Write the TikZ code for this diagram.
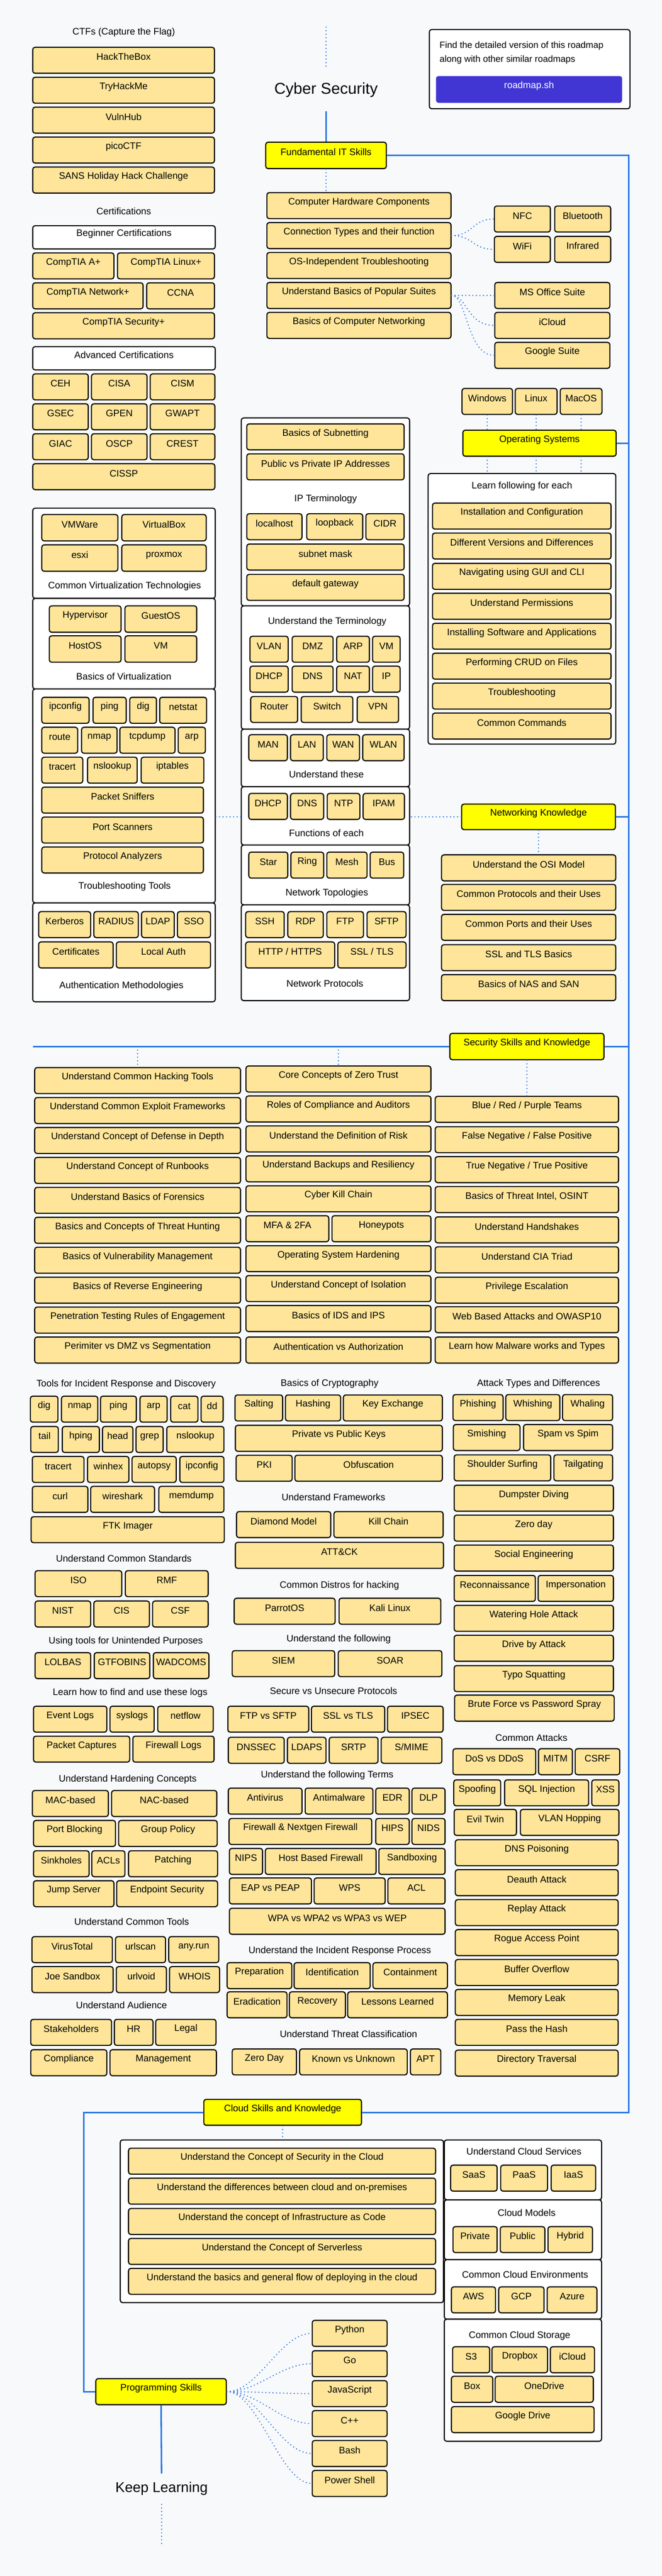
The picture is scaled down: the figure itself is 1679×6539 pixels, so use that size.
\documentclass[tikz,border=0pt]{standalone}
\usepackage{fontspec}
\setmainfont{Liberation Sans}
\usetikzlibrary{fit}

\definecolor{pagebg}{RGB}{248,249,251}
\definecolor{boxfill}{RGB}{255,229,153}
\definecolor{topicyellow}{RGB}{255,255,0}
\definecolor{roadblue}{RGB}{43,120,228}
\definecolor{btnblue}{RGB}{65,54,212}

% one box spanning two corners: [style]{name}{x1}{y1}{x2}{y2}{text}
\newcommand{\cellbox}[7][box]{\node[#1, fit={(#3,#4) (#5,#6)}] (#2) {#7};}

\begin{document}
\begin{tikzpicture}[x=1pt, y=-1pt,
    box/.style={draw=black, line width=2.8pt, fill=boxfill, rounded corners=6pt, inner sep=0pt,
      font=\fontsize{24}{28}\selectfont, text height=17pt, text depth=5pt},
    hbox/.style={box, fill=white},
    topic/.style={box, fill=topicyellow},
    cont/.style={draw=black, line width=2.8pt, fill=white, rounded corners=6pt, inner sep=0pt},
    btn/.style={box, draw=none, fill=btnblue, text=white},
    lbl/.style={font=\fontsize{24}{28}\selectfont, inner sep=0pt, text height=17pt, text depth=5pt},
    bluel/.style={draw=roadblue, line width=4pt},
    dotl/.style={draw=roadblue, line width=3.5pt, line cap=round, dash pattern=on 0pt off 9pt}]

    % page
    \fill[pagebg] (0,0) rectangle (1679,6539);
    \useasboundingbox (0,0) rectangle (1679,6539);

    % title and info
    \coordinate (topdot) at (827,69);
    \node[font=\fontsize{40}{48}\selectfont, inner xsep=0pt, inner ysep=36pt, text height=29pt, text depth=8pt] (title) at (827,228) {Cyber Security};
    \cellbox[cont]{info}{1089}{75}{1598}{276}{}
    \node[lbl, anchor=west, font=\fontsize{23}{28}\selectfont] (info1) at (1115,116) {Find the detailed version of this roadmap};
    \node[lbl, anchor=west, font=\fontsize{23}{28}\selectfont] (info2) at (1115,152) {along with other similar roadmaps};
    \cellbox[btn]{rmbtn}{1106}{193}{1578}{261}{roadmap.sh}

    % fundamental IT skills
    \cellbox[topic]{fund}{674}{361}{980}{428}{Fundamental IT Skills}
    \coordinate (tr) at (1595,394.5);
    \cellbox{hw}{677}{489}{1144}{555}{Computer Hardware Components}
    \cellbox{conn}{677}{565}{1144}{631}{Connection Types and their function}
    \cellbox{osind}{677}{641}{1144}{707}{OS-Independent Troubleshooting}
    \cellbox{suites}{677}{717}{1144}{783}{Understand Basics of Popular Suites}
    \cellbox{netb}{677}{793}{1144}{859}{Basics of Computer Networking}
    \cellbox{nfc}{1254}{523}{1396}{589}{NFC}
    \cellbox{bt}{1407}{523}{1549}{589}{Bluetooth}
    \cellbox{wifi}{1254}{600}{1396}{666}{WiFi}
    \cellbox{ir}{1407}{600}{1549}{666}{Infrared}
    \cellbox{office}{1255}{717}{1547}{783}{MS Office Suite}
    \cellbox{icloud}{1255}{793}{1547}{859}{iCloud}
    \cellbox{gsuite}{1255}{869}{1547}{935}{Google Suite}

    % CTFs
    \node[lbl] (ctf) at (314,82) {CTFs (Capture the Flag)};
    \cellbox{htb}{83}{120}{544}{186}{HackTheBox}
    \cellbox{thm}{83}{196}{544}{262}{TryHackMe}
    \cellbox{vhub}{83}{272}{544}{338}{VulnHub}
    \cellbox{pico}{83}{348}{544}{414}{picoCTF}
    \cellbox{sans}{83}{424}{544}{490}{SANS Holiday Hack Challenge}

    % certifications
    \node[lbl] (certs) at (314,539) {Certifications};
    \cellbox[hbox]{begc}{83}{573}{546}{632}{Beginner Certifications}
    \cellbox{aplus}{83}{642}{289}{708}{CompTIA A+}
    \cellbox{linplus}{298}{642}{544}{708}{CompTIA Linux+}
    \cellbox{netplus}{83}{718}{363}{784}{CompTIA Network+}
    \cellbox{ccna}{372}{718}{544}{784}{CCNA}
    \cellbox{secplus}{83}{794}{544}{860}{CompTIA Security+}
    \cellbox[hbox]{advc}{83}{880}{546}{939}{Advanced Certifications}
    \cellbox{ceh}{83}{949}{224}{1015}{CEH}
    \cellbox{cisa}{232}{949}{373}{1015}{CISA}
    \cellbox{cism}{381}{949}{545}{1015}{CISM}
    \cellbox{gsec}{83}{1025}{224}{1091}{GSEC}
    \cellbox{gpen}{232}{1025}{373}{1091}{GPEN}
    \cellbox{gwapt}{381}{1025}{545}{1091}{GWAPT}
    \cellbox{giac}{83}{1101}{224}{1167}{GIAC}
    \cellbox{oscp}{232}{1101}{373}{1167}{OSCP}
    \cellbox{crest}{381}{1101}{545}{1167}{CREST}
    \cellbox{cissp}{83}{1177}{545}{1243}{CISSP}

    % virtualization
    \cellbox[cont]{virtc}{83}{1290}{546}{1519}{}
    \cellbox{vmware}{106}{1306}{299}{1373}{VMWare}
    \cellbox{vbox}{309}{1306}{523}{1373}{VirtualBox}
    \cellbox{esxi}{106}{1383}{299}{1450}{esxi}
    \cellbox{proxmox}{309}{1383}{523}{1450}{proxmox}
    \node[lbl] (virtl) at (316,1488) {Common Virtualization Technologies};
    \cellbox[cont]{bvirtc}{83}{1519}{546}{1749}{}
    \cellbox{hyperv}{125}{1538}{307}{1605}{Hypervisor}
    \cellbox{guestos}{317}{1538}{499}{1605}{GuestOS}
    \cellbox{hostos}{125}{1614}{307}{1681}{HostOS}
    \cellbox{vmb}{317}{1614}{499}{1681}{VM}
    \node[lbl] (bvirtl) at (314,1719) {Basics of Virtualization};

    % troubleshooting tools
    \cellbox[cont]{trb}{83}{1749}{546}{2292}{}
    \cellbox{ipcfg}{106}{1770}{226}{1836}{ipconfig}
    \cellbox{ping}{236}{1770}{320}{1836}{ping}
    \cellbox{dig}{329}{1770}{397}{1836}{dig}
    \cellbox{netstat}{405}{1770}{524}{1836}{netstat}
    \cellbox{route}{106}{1846}{197}{1912}{route}
    \cellbox{nmap}{207}{1846}{297}{1912}{nmap}
    \cellbox{tcpdump}{304}{1846}{444}{1912}{tcpdump}
    \cellbox{arp}{452}{1846}{521}{1912}{arp}
    \cellbox{tracert}{106}{1922}{210}{1988}{tracert}
    \cellbox{nslook}{222}{1922}{348}{1988}{nslookup}
    \cellbox{iptab}{358}{1922}{517}{1988}{iptables}
    \cellbox{sniff}{106}{1998}{516}{2064}{Packet Sniffers}
    \cellbox{pscan}{106}{2074}{516}{2140}{Port Scanners}
    \cellbox{panal}{106}{2150}{516}{2216}{Protocol Analyzers}
    \node[lbl] (trbl) at (316,2251) {Troubleshooting Tools};

    % authentication
    \cellbox[cont]{authc}{83}{2292}{546}{2543}{}
    \cellbox{kerb}{98}{2314}{230}{2380}{Kerberos}
    \cellbox{radius}{238}{2314}{351}{2380}{RADIUS}
    \cellbox{ldap}{359}{2314}{442}{2380}{LDAP}
    \cellbox{sso}{450}{2314}{534}{2380}{SSO}
    \cellbox{certif}{98}{2391}{287}{2457}{Certificates}
    \cellbox{lauth}{295}{2391}{534}{2457}{Local Auth}
    \node[lbl] (authl) at (308,2503) {Authentication Methodologies};

    % IP terminology
    \cellbox[cont]{ipc}{612}{1061}{1039}{1538}{}
    \cellbox{subnet}{626}{1076}{1025}{1142}{Basics of Subnetting}
    \cellbox{pubpriv}{626}{1152}{1025}{1218}{Public vs Private IP Addresses}
    \node[lbl] (ipl) at (826,1267) {IP Terminology};
    \cellbox{lhost}{626}{1304}{766}{1370}{localhost}
    \cellbox{loopb}{778}{1304}{920}{1370}{loopback}
    \cellbox{cidr}{928}{1304}{1025}{1370}{CIDR}
    \cellbox{smask}{626}{1381}{1025}{1447}{subnet mask}
    \cellbox{dgw}{626}{1458}{1025}{1524}{default gateway}

    % terminology
    \cellbox[cont]{termc}{612}{1538}{1039}{1851}{}
    \node[lbl] (terml) at (830,1579) {Understand the Terminology};
    \cellbox{vlan}{634}{1615}{731}{1681}{VLAN}
    \cellbox{dmz}{741}{1615}{845}{1681}{DMZ}
    \cellbox{arpt}{854}{1615}{937}{1681}{ARP}
    \cellbox{vmt}{945}{1615}{1015}{1681}{VM}
    \cellbox{dhcpt}{634}{1691}{731}{1757}{DHCP}
    \cellbox{dnst}{741}{1691}{845}{1757}{DNS}
    \cellbox{nat}{854}{1691}{937}{1757}{NAT}
    \cellbox{ipt}{945}{1691}{1015}{1757}{IP}
    \cellbox{router}{636}{1768}{755}{1834}{Router}
    \cellbox{switch}{764}{1768}{895}{1834}{Switch}
    \cellbox{vpn}{906}{1768}{1011}{1834}{VPN}

    % network types
    \cellbox[cont]{utc}{612}{1851}{1039}{1997}{}
    \cellbox{man}{631}{1865}{729}{1931}{MAN}
    \cellbox{lan}{737}{1865}{820}{1931}{LAN}
    \cellbox{wan}{829}{1865}{912}{1931}{WAN}
    \cellbox{wlan}{920}{1865}{1025}{1931}{WLAN}
    \node[lbl] (utl) at (828,1968) {Understand these};

    % functions
    \cellbox[cont]{fnc}{612}{1997}{1039}{2145}{}
    \cellbox{dhcpf}{631}{2014}{729}{2080}{DHCP}
    \cellbox{dnsf}{737}{2014}{821}{2080}{DNS}
    \cellbox{ntp}{830}{2014}{913}{2080}{NTP}
    \cellbox{ipam}{921}{2014}{1026}{2080}{IPAM}
    \node[lbl] (fnl) at (828,2117) {Functions of each};

    % topologies
    \cellbox[cont]{topc}{612}{2145}{1039}{2297}{}
    \cellbox{star}{631}{2163}{730}{2229}{Star}
    \cellbox{ring}{738}{2163}{821}{2229}{Ring}
    \cellbox{mesh}{829}{2163}{931}{2229}{Mesh}
    \cellbox{bus}{939}{2163}{1024}{2229}{Bus}
    \node[lbl] (topl) at (829,2267) {Network Topologies};

    % protocols
    \cellbox[cont]{protc}{612}{2297}{1039}{2540}{}
    \cellbox{ssh}{623}{2314}{721}{2380}{SSH}
    \cellbox{rdp}{730}{2314}{820}{2380}{RDP}
    \cellbox{ftp}{829}{2314}{922}{2380}{FTP}
    \cellbox{sftp}{931}{2314}{1030}{2380}{SFTP}
    \cellbox{http}{623}{2391}{849}{2457}{HTTP / HTTPS}
    \cellbox{ssltls}{857}{2391}{1030}{2457}{SSL / TLS}
    \node[lbl] (protl) at (824,2499) {Network Protocols};

    % operating systems
    \cellbox{win}{1172}{986}{1300}{1052}{Windows}
    \cellbox{linux}{1307}{986}{1413}{1052}{Linux}
    \cellbox{macos}{1421}{986}{1527}{1052}{MacOS}
    \cellbox[topic]{os}{1174}{1092}{1563}{1158}{Operating Systems}
    \cellbox[cont]{learn}{1086}{1202}{1562}{1889}{}
    \node[lbl] (learnl) at (1324,1235) {Learn following for each};
    \cellbox{install}{1097}{1277}{1550}{1343}{Installation and Configuration}
    \cellbox{versions}{1097}{1353}{1550}{1419}{Different Versions and Differences}
    \cellbox{gui}{1097}{1430}{1550}{1496}{Navigating using GUI and CLI}
    \cellbox{perms}{1097}{1506}{1550}{1572}{Understand Permissions}
    \cellbox{software}{1097}{1582}{1550}{1648}{Installing Software and Applications}
    \cellbox{crud}{1097}{1658}{1550}{1724}{Performing CRUD on Files}
    \cellbox{trbos}{1097}{1734}{1550}{1800}{Troubleshooting}
    \cellbox{cmds}{1097}{1810}{1550}{1876}{Common Commands}

    % networking knowledge
    \cellbox[topic]{net}{1171}{2041}{1561}{2106}{Networking Knowledge}
    \cellbox{osi}{1120}{2170}{1562}{2236}{Understand the OSI Model}
    \cellbox{cprot}{1120}{2245}{1562}{2311}{Common Protocols and their Uses}
    \cellbox{cports}{1120}{2321}{1562}{2387}{Common Ports and their Uses}
    \cellbox{sslb}{1120}{2398}{1562}{2464}{SSL and TLS Basics}
    \cellbox{nas}{1120}{2474}{1562}{2540}{Basics of NAS and SAN}

    % security skills and knowledge
    \cellbox[topic]{sec}{1141}{2623}{1532}{2690}{Security Skills and Knowledge}
    \coordinate (sl) at (84,2656.5);
    \cellbox{hack}{88}{2710}{610}{2776}{Understand Common Hacking Tools}
    \cellbox{exploit}{88}{2786}{610}{2852}{Understand Common Exploit Frameworks}
    \cellbox{depth}{88}{2862}{610}{2928}{Understand Concept of Defense in Depth}
    \cellbox{runbook}{88}{2938}{610}{3004}{Understand Concept of Runbooks}
    \cellbox{forens}{88}{3014}{610}{3080}{Understand Basics of Forensics}
    \cellbox{hunt}{88}{3090}{610}{3156}{Basics and Concepts of Threat Hunting}
    \cellbox{vulnm}{88}{3166}{610}{3232}{Basics of Vulnerability Management}
    \cellbox{reveng}{88}{3242}{610}{3308}{Basics of Reverse Engineering}
    \cellbox{pentest}{88}{3318}{610}{3384}{Penetration Testing Rules of Engagement}
    \cellbox{perim}{88}{3394}{610}{3460}{Perimiter vs DMZ vs Segmentation}
    \cellbox{zt}{624}{2706}{1093}{2772}{Core Concepts of Zero Trust}
    \cellbox{compl}{624}{2782}{1093}{2848}{Roles of Compliance and Auditors}
    \cellbox{risk}{624}{2858}{1093}{2924}{Understand the Definition of Risk}
    \cellbox{backup}{624}{2934}{1093}{3000}{Understand Backups and Resiliency}
    \cellbox{kchain}{624}{3010}{1093}{3076}{Cyber Kill Chain}
    \cellbox{mfa}{624}{3086}{834}{3152}{MFA \& 2FA}
    \cellbox{honey}{842}{3086}{1093}{3152}{Honeypots}
    \cellbox{oshard}{624}{3162}{1093}{3228}{Operating System Hardening}
    \cellbox{isol}{624}{3238}{1093}{3304}{Understand Concept of Isolation}
    \cellbox{ids}{624}{3314}{1093}{3380}{Basics of IDS and IPS}
    \cellbox{authz}{624}{3394}{1093}{3460}{Authentication vs Authorization}
    \cellbox{teams}{1104}{2783}{1569}{2849}{Blue / Red / Purple Teams}
    \cellbox{fnfp}{1104}{2860}{1569}{2926}{False Negative / False Positive}
    \cellbox{tntp}{1104}{2936}{1569}{3002}{True Negative / True Positive}
    \cellbox{intel}{1104}{3012}{1569}{3078}{Basics of Threat Intel, OSINT}
    \cellbox{hshake}{1104}{3089}{1569}{3155}{Understand Handshakes}
    \cellbox{cia}{1104}{3165}{1569}{3231}{Understand CIA Triad}
    \cellbox{privesc}{1104}{3242}{1569}{3308}{Privilege Escalation}
    \cellbox{owasp}{1104}{3317}{1569}{3383}{Web Based Attacks and OWASP10}
    \cellbox{malware}{1104}{3394}{1569}{3460}{Learn how Malware works and Types}

    % incident response tools
    \node[lbl] (irl) at (320,3514) {Tools for Incident Response and Discovery};
    \cellbox{digi}{77}{3544}{147}{3610}{dig}
    \cellbox{nmapi}{156}{3544}{248}{3610}{nmap}
    \cellbox{pingi}{255}{3544}{346}{3610}{ping}
    \cellbox{arpi}{355}{3544}{424}{3610}{arp}
    \cellbox{cat}{433}{3544}{502}{3610}{cat}
    \cellbox{dd}{510}{3544}{566}{3610}{dd}
    \cellbox{tail}{78}{3621}{148}{3687}{tail}
    \cellbox{hping}{158}{3621}{252}{3687}{hping}
    \cellbox{head}{260}{3621}{337}{3687}{head}
    \cellbox{grep}{345}{3621}{414}{3687}{grep}
    \cellbox{nslooki}{423}{3621}{568}{3687}{nslookup}
    \cellbox{tracerti}{82}{3697}{213}{3763}{tracert}
    \cellbox{winhex}{222}{3697}{327}{3763}{winhex}
    \cellbox{autopsy}{335}{3697}{447}{3763}{autopsy}
    \cellbox{ipcfgi}{456}{3697}{568}{3763}{ipconfig}
    \cellbox{curl}{82}{3773}{223}{3839}{curl}
    \cellbox{wshark}{230}{3773}{392}{3839}{wireshark}
    \cellbox{memdump}{403}{3773}{568}{3839}{memdump}
    \cellbox{ftk}{79}{3850}{569}{3916}{FTK Imager}

    % standards and more tools
    \node[lbl] (stdl) at (314,3958) {Understand Common Standards};
    \cellbox{iso}{89}{3987}{309}{4053}{ISO}
    \cellbox{rmf}{318}{3987}{528}{4053}{RMF}
    \cellbox{nist}{89}{4064}{230}{4130}{NIST}
    \cellbox{cis}{238}{4064}{379}{4130}{CIS}
    \cellbox{csf}{387}{4064}{528}{4130}{CSF}
    \node[lbl] (unintl) at (319,4167) {Using tools for Unintended Purposes};
    \cellbox{lolbas}{89}{4195}{230}{4261}{LOLBAS}
    \cellbox{gtfo}{239}{4195}{380}{4261}{GTFOBINS}
    \cellbox{wadcoms}{389}{4195}{530}{4261}{WADCOMS}
    \node[lbl] (logsl) at (330,4297) {Learn how to find and use these logs};
    \cellbox{evlogs}{85}{4331}{271}{4397}{Event Logs}
    \cellbox{syslogs}{279}{4331}{391}{4397}{syslogs}
    \cellbox{netflow}{400}{4331}{541}{4397}{netflow}
    \cellbox{pcap}{85}{4407}{329}{4473}{Packet Captures}
    \cellbox{fwlogs}{337}{4407}{543}{4473}{Firewall Logs}
    \node[lbl] (hardl) at (324,4517) {Understand Hardening Concepts};
    \cellbox{macb}{82}{4545}{275}{4611}{MAC-based}
    \cellbox{nacb}{283}{4545}{550}{4611}{NAC-based}
    \cellbox{portb}{85}{4621}{293}{4687}{Port Blocking}
    \cellbox{gpol}{301}{4621}{551}{4687}{Group Policy}
    \cellbox{sinkh}{85}{4698}{226}{4764}{Sinkholes}
    \cellbox{acls}{233}{4698}{317}{4764}{ACLs}
    \cellbox{patch}{326}{4698}{552}{4764}{Patching}
    \cellbox{jumps}{85}{4774}{289}{4840}{Jump Server}
    \cellbox{endp}{296}{4774}{552}{4840}{Endpoint Security}
    \node[lbl] (ctoolsl) at (334,4881) {Understand Common Tools};
    \cellbox{vtotal}{81}{4916}{285}{4982}{VirusTotal}
    \cellbox{urlscan}{293}{4916}{420}{4982}{urlscan}
    \cellbox{anyrun}{428}{4916}{555}{4982}{any.run}
    \cellbox{joesb}{81}{4992}{287}{5058}{Joe Sandbox}
    \cellbox{urlvoid}{295}{4992}{422}{5058}{urlvoid}
    \cellbox{whois}{430}{4992}{557}{5058}{WHOIS}
    \node[lbl] (audl) at (308,5092) {Understand Audience};
    \cellbox{stake}{78}{5126}{283}{5192}{Stakeholders}
    \cellbox{hr}{290}{5126}{388}{5192}{HR}
    \cellbox{legal}{395}{5126}{548}{5192}{Legal}
    \cellbox{complc}{78}{5203}{271}{5269}{Compliance}
    \cellbox{mgmt}{279}{5203}{549}{5269}{Management}

    % cryptography and middle lists
    \node[lbl] (cryptl) at (836,3512) {Basics of Cryptography};
    \cellbox{salt}{596}{3541}{717}{3607}{Salting}
    \cellbox{hashing}{724}{3541}{864}{3607}{Hashing}
    \cellbox{keyx}{871}{3541}{1122}{3607}{Key Exchange}
    \cellbox{pkeys}{597}{3618}{1122}{3684}{Private vs Public Keys}
    \cellbox{pki}{599}{3694}{741}{3760}{PKI}
    \cellbox{obfus}{748}{3694}{1122}{3760}{Obfuscation}
    \node[lbl] (framel) at (846,3803) {Understand Frameworks};
    \cellbox{diamond}{600}{3837}{839}{3903}{Diamond Model}
    \cellbox{killc}{847}{3837}{1124}{3903}{Kill Chain}
    \cellbox{attck}{597}{3915}{1125}{3981}{ATT\&CK}
    \node[lbl] (distl) at (861,4025) {Common Distros for hacking};
    \cellbox{parrot}{594}{4057}{850}{4123}{ParrotOS}
    \cellbox{kali}{860}{4057}{1118}{4123}{Kali Linux}
    \node[lbl] (followl) at (859,4161) {Understand the following};
    \cellbox{siem}{589}{4190}{849}{4256}{SIEM}
    \cellbox{soar}{858}{4190}{1121}{4256}{SOAR}
    \node[lbl] (securl) at (846,4294) {Secure vs Unsecure Protocols};
    \cellbox{ftpsftp}{578}{4331}{783}{4397}{FTP vs SFTP}
    \cellbox{sslvtls}{790}{4331}{976}{4397}{SSL vs TLS}
    \cellbox{ipsec}{983}{4331}{1124}{4397}{IPSEC}
    \cellbox{dnssec}{579}{4410}{721}{4476}{DNSSEC}
    \cellbox{ldaps}{729}{4410}{827}{4476}{LDAPS}
    \cellbox{srtp}{835}{4410}{959}{4476}{SRTP}
    \cellbox{smime}{967}{4410}{1121}{4476}{S/MIME}
    \node[lbl] (termsl) at (830,4507) {Understand the following Terms};
    \cellbox{antiv}{579}{4539}{766}{4605}{Antivirus}
    \cellbox{antim}{774}{4539}{946}{4605}{Antimalware}
    \cellbox{edr}{953}{4539}{1038}{4605}{EDR}
    \cellbox{dlp}{1045}{4539}{1129}{4605}{DLP}
    \cellbox{fwng}{581}{4616}{943}{4682}{Firewall \& Nextgen Firewall}
    \cellbox{hips}{953}{4616}{1038}{4682}{HIPS}
    \cellbox{nids}{1045}{4616}{1129}{4682}{NIDS}
    \cellbox{nips}{582}{4692}{666}{4758}{NIPS}
    \cellbox{hbfw}{673}{4692}{954}{4758}{Host Based Firewall}
    \cellbox{sandbox}{961}{4692}{1129}{4758}{Sandboxing}
    \cellbox{eap}{582}{4767}{790}{4833}{EAP vs PEAP}
    \cellbox{wps}{797}{4767}{977}{4833}{WPS}
    \cellbox{acl}{984}{4767}{1129}{4833}{ACL}
    \cellbox{wpa}{582}{4844}{1129}{4910}{WPA vs WPA2 vs WPA3 vs WEP}
    \node[lbl] (irpl) at (862,4952) {Understand the Incident Response Process};
    \cellbox{prep}{576}{4982}{740}{5048}{Preparation}
    \cellbox{ident}{746}{4982}{939}{5048}{Identification}
    \cellbox{contain}{946}{4982}{1135}{5048}{Containment}
    \cellbox{erad}{576}{5056}{728}{5122}{Eradication}
    \cellbox{recov}{734}{5056}{876}{5122}{Recovery}
    \cellbox{lessons}{882}{5056}{1135}{5122}{Lessons Learned}
    \node[lbl] (threatl) at (884,5166) {Understand Threat Classification};
    \cellbox{zday}{589}{5201}{752}{5267}{Zero Day}
    \cellbox{known}{760}{5201}{1033}{5267}{Known vs Unknown}
    \cellbox{apt}{1041}{5201}{1118}{5267}{APT}

    % attack types
    \node[lbl] (attl) at (1366,3512) {Attack Types and Differences};
    \cellbox{phish}{1149}{3540}{1276}{3606}{Phishing}
    \cellbox{whish}{1283}{3540}{1420}{3606}{Whishing}
    \cellbox{whale}{1427}{3540}{1554}{3606}{Whaling}
    \cellbox{smish}{1150}{3616}{1319}{3682}{Smishing}
    \cellbox{spam}{1328}{3616}{1554}{3682}{Spam vs Spim}
    \cellbox{shoulder}{1152}{3693}{1397}{3759}{Shoulder Surfing}
    \cellbox{tailg}{1405}{3693}{1554}{3759}{Tailgating}
    \cellbox{dumpster}{1152}{3770}{1556}{3836}{Dumpster Diving}
    \cellbox{zeroday}{1152}{3846}{1556}{3912}{Zero day}
    \cellbox{soceng}{1152}{3922}{1556}{3988}{Social Engineering}
    \cellbox{recon}{1152}{3999}{1358}{4065}{Reconnaissance}
    \cellbox{imperson}{1365}{3999}{1556}{4065}{Impersonation}
    \cellbox{wateringh}{1152}{4075}{1556}{4141}{Watering Hole Attack}
    \cellbox{driveby}{1152}{4151}{1556}{4217}{Drive by Attack}
    \cellbox{typosq}{1152}{4228}{1556}{4294}{Typo Squatting}
    \cellbox{brute}{1153}{4303}{1558}{4369}{Brute Force vs Password Spray}

    % common attacks
    \node[lbl] (cattl) at (1348,4413) {Common Attacks};
    \cellbox{dos}{1149}{4439}{1359}{4505}{DoS vs DDoS}
    \cellbox{mitm}{1366}{4439}{1452}{4505}{MITM}
    \cellbox{csrf}{1459}{4439}{1572}{4505}{CSRF}
    \cellbox{spoof}{1151}{4518}{1270}{4584}{Spoofing}
    \cellbox{sqli}{1280}{4518}{1493}{4584}{SQL Injection}
    \cellbox{xss}{1501}{4518}{1570}{4584}{XSS}
    \cellbox{eviltwin}{1152}{4593}{1310}{4659}{Evil Twin}
    \cellbox{vlanhop}{1320}{4593}{1570}{4659}{VLAN Hopping}
    \cellbox{dnspois}{1155}{4670}{1568}{4736}{DNS Poisoning}
    \cellbox{deauth}{1155}{4746}{1568}{4812}{Deauth Attack}
    \cellbox{replay}{1155}{4822}{1568}{4888}{Replay Attack}
    \cellbox{rogue}{1155}{4898}{1568}{4964}{Rogue Access Point}
    \cellbox{bufov}{1155}{4974}{1568}{5040}{Buffer Overflow}
    \cellbox{memleak}{1155}{5050}{1568}{5116}{Memory Leak}
    \cellbox{pth}{1155}{5126}{1568}{5192}{Pass the Hash}
    \cellbox{dirtrav}{1155}{5204}{1568}{5270}{Directory Traversal}

    % cloud skills
    \cellbox[topic]{cloud}{517}{5329}{917}{5395}{Cloud Skills and Knowledge}
    \coordinate (cl) at (212,5362);
    \cellbox[cont]{cc}{305}{5432}{1125}{5845}{}
    \cellbox{csec}{326}{5453}{1105}{5519}{Understand the Concept of Security in the Cloud}
    \cellbox{conprem}{326}{5529}{1105}{5595}{Understand the differences between cloud and on-premises}
    \cellbox{iac}{326}{5606}{1105}{5672}{Understand the concept of Infrastructure as Code}
    \cellbox{srvless}{326}{5682}{1105}{5748}{Understand the Concept of Serverless}
    \cellbox{deploy}{326}{5758}{1105}{5824}{Understand the basics and general flow of deploying in the cloud}
    \cellbox[cont]{csc}{1127}{5432}{1526}{5584}{}
    \node[lbl] (csl) at (1329,5464) {Understand Cloud Services};
    \cellbox{saas}{1143}{5496}{1261}{5562}{SaaS}
    \cellbox{paas}{1270}{5496}{1389}{5562}{PaaS}
    \cellbox{iaas}{1398}{5496}{1511}{5562}{IaaS}
    \cellbox[cont]{cmc}{1127}{5584}{1526}{5736}{}
    \node[lbl] (cml) at (1336,5620) {Cloud Models};
    \cellbox{private}{1149}{5652}{1261}{5718}{Private}
    \cellbox{public}{1269}{5652}{1382}{5718}{Public}
    \cellbox{hybrid}{1390}{5652}{1503}{5718}{Hybrid}
    \cellbox[cont]{cec}{1127}{5736}{1526}{5887}{}
    \node[lbl] (cel) at (1332,5777) {Common Cloud Environments};
    \cellbox{aws}{1145}{5805}{1257}{5871}{AWS}
    \cellbox{gcp}{1265}{5805}{1380}{5871}{GCP}
    \cellbox{azure}{1388}{5805}{1514}{5871}{Azure}
    \cellbox[cont]{cstc}{1127}{5887}{1526}{6197}{}
    \node[lbl] (cstl) at (1318,5929) {Common Cloud Storage};
    \cellbox{s3}{1148}{5957}{1242}{6023}{S3}
    \cellbox{dropbox}{1248}{5957}{1389}{6023}{Dropbox}
    \cellbox{icloudst}{1396}{5957}{1508}{6023}{iCloud}
    \cellbox{boxst}{1145}{6032}{1250}{6098}{Box}
    \cellbox{onedrive}{1256}{6032}{1505}{6098}{OneDrive}
    \cellbox{gdrive}{1145}{6109}{1507}{6175}{Google Drive}

    % programming skills
    \cellbox[topic]{prog}{243}{6038}{574}{6104}{Programming Skills}
    \cellbox{python}{792}{5890}{982}{5956}{Python}
    \cellbox{golang}{792}{5967}{982}{6033}{Go}
    \cellbox{js}{792}{6043}{982}{6109}{JavaScript}
    \cellbox{cpp}{792}{6119}{982}{6185}{C++}
    \cellbox{bash}{792}{6195}{982}{6261}{Bash}
    \cellbox{pwsh}{792}{6271}{982}{6337}{Power Shell}
    \node[font=\fontsize{36}{44}\selectfont, inner xsep=0pt, inner ysep=22pt, text height=26pt, text depth=8pt] (keep) at (410,6318) {Keep Learning};
    \coordinate (enddot) at (410,6465);

    % connectors
    \draw[dotl] (topdot) -- (title);
    \draw[bluel] (title) -- (fund);
    \draw[bluel] (fund.east) -- (tr) |- (cloud.east);
    \draw[dotl] (fund.south) -- (fund.south |- hw.north);
    \draw[dotl] (conn.east) .. controls +(55,0) and +(-55,0) .. (nfc.west);
    \draw[dotl] (conn.east) .. controls +(55,0) and +(-55,0) .. (wifi.west);
    \draw[dotl] (suites.east) -- (office.west);
    \draw[dotl] (suites.east) .. controls +(40,0) and +(-70,0) .. (icloud.west);
    \draw[dotl] (suites.east) .. controls +(40,0) and +(-70,0) .. (gsuite.west);
    \draw[bluel] (os.east) -- (os.east -| tr);
    \draw[dotl] (win) -- (win |- os.north);
    \draw[dotl] (linux) -- (linux |- os.north);
    \draw[dotl] (macos) -- (macos |- os.north);
    \draw[dotl] (os.south -| win) -- (learn.north -| win);
    \draw[dotl] (os.south -| linux) -- (learn.north -| linux);
    \draw[dotl] (os.south -| macos) -- (learn.north -| macos);
    \draw[bluel] (net.east) -- (net.east -| tr);
    \draw[dotl] (net.west) -- (net.west -| fnc.east);
    \draw[dotl] (net.west -| fnc.west) -- (net.west -| trb.east);
    \draw[dotl] (net.south) -- (net.south |- osi.north);
    \draw[bluel] (sl) -- (sec.west);
    \draw[bluel] (sec.east) -- (sec.east -| tr);
    \draw[dotl] (hack.north |- sl) -- (hack.north);
    \draw[dotl] (zt.north |- sl) -- (zt.north);
    \draw[dotl] (sec.south) -- (sec.south |- teams.north);
    \draw[bluel] (cloud.west) -- (cl) |- (prog.west);
    \draw[dotl] (cloud.south) -- (cloud.south |- cc.north);
    \draw[dotl] (prog.east) .. controls +(80,0) and +(-80,0) .. (python.west);
    \draw[dotl] (prog.east) .. controls +(80,0) and +(-80,0) .. (golang.west);
    \draw[dotl] (prog.east) .. controls +(80,0) and +(-80,0) .. (js.west);
    \draw[dotl] (prog.east) .. controls +(80,0) and +(-80,0) .. (cpp.west);
    \draw[dotl] (prog.east) .. controls +(80,0) and +(-80,0) .. (bash.west);
    \draw[dotl] (prog.east) .. controls +(80,0) and +(-80,0) .. (pwsh.west);
    \draw[bluel] (prog) -- (keep);
    \draw[dotl] (keep) -- (enddot);
\end{tikzpicture}
\end{document}
